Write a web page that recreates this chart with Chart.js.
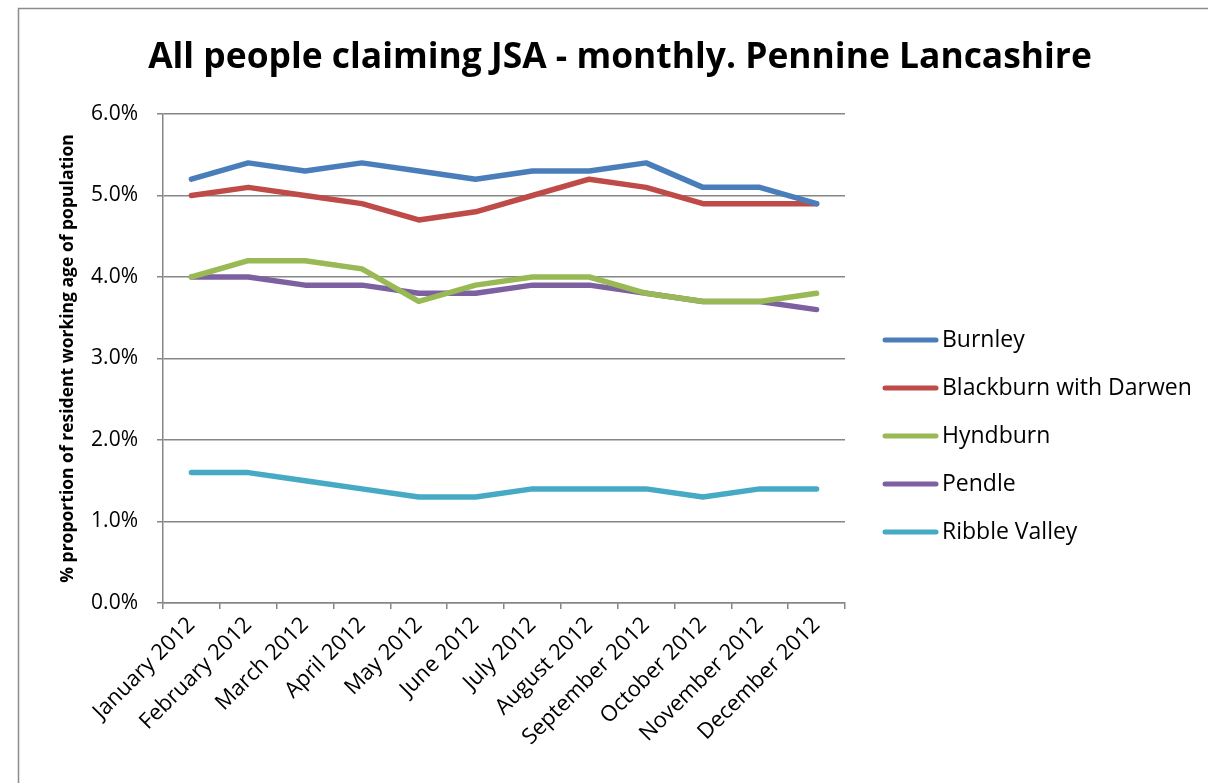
<!DOCTYPE html>
<html>
<head>
<meta charset="utf-8">
<script src="https://cdn.jsdelivr.net/npm/chart.js@4.4.0/dist/chart.umd.min.js"></script>
<style>
  html, body { margin: 0; padding: 0; background: #ffffff; }
  #wrap { width: 1208px; height: 783px; }
</style>
</head>
<body>
<div id="wrap"><canvas id="c" width="1208" height="783"></canvas></div>
<script>
const titleText = 'All people claiming JSA - monthly. Pennine Lancashire';
const yAxisTitle = '% proportion of resident working age of population';
const categories = ['January 2012', 'February 2012', 'March 2012', 'April 2012', 'May 2012', 'June 2012',
  'July 2012', 'August 2012', 'September 2012', 'October 2012', 'November 2012', 'December 2012'];
const seriesNames = ['Burnley', 'Blackburn with Darwen', 'Hyndburn', 'Pendle', 'Ribble Valley'];
const burnley   = [5.2, 5.4, 5.3, 5.4, 5.3, 5.2, 5.3, 5.3, 5.4, 5.1, 5.1, 4.9];
const blackburn = [5.0, 5.1, 5.0, 4.9, 4.7, 4.8, 5.0, 5.2, 5.1, 4.9, 4.9, 4.9];
const hyndburn  = [4.0, 4.2, 4.2, 4.1, 3.7, 3.9, 4.0, 4.0, 3.8, 3.7, 3.7, 3.8];
const pendle    = [4.0, 4.0, 3.9, 3.9, 3.8, 3.8, 3.9, 3.9, 3.8, 3.7, 3.7, 3.6];
const ribble    = [1.6, 1.6, 1.5, 1.4, 1.3, 1.3, 1.4, 1.4, 1.4, 1.3, 1.4, 1.4];
const yTicks = [0, 1, 2, 3, 4, 5, 6];
const colors = ['#4A7EBB', '#BE4B48', '#98B954', '#7D60A0', '#46AAC5'];
const seriesValues = [burnley, blackburn, hyndburn, pendle, ribble];

const FONT = "'Open Sans', 'Noto Sans', sans-serif";
const AXIS = '#868686';

const decorPlugin = {
  id: 'decor',
  beforeDraw(chart) {
    const ctx = chart.ctx;
    ctx.save();
    ctx.fillStyle = '#ffffff';
    ctx.fillRect(0, 0, chart.width, chart.height);
    ctx.strokeStyle = '#8c8c8c';
    ctx.lineWidth = 1.5;
    ctx.strokeRect(18.5, 8.5, chart.width + 20, chart.height + 20);
    ctx.restore();
  },
  afterDraw(chart) {
    const ctx = chart.ctx;
    ctx.save();
    // title
    ctx.fillStyle = '#000000';
    ctx.font = "bold 35.4px " + FONT;
    ctx.textAlign = 'center';
    ctx.textBaseline = 'middle';
    ctx.fillText(titleText, 620, 58);
    // legend
    ctx.font = "23px " + FONT;
    ctx.textAlign = 'left';
    chart.data.datasets.forEach((ds, i) => {
      const y = 340 + i * 48;
      ctx.strokeStyle = ds.borderColor;
      ctx.lineWidth = 5;
      ctx.lineCap = 'round';
      ctx.beginPath();
      ctx.moveTo(885, y);
      ctx.lineTo(936, y);
      ctx.stroke();
      ctx.fillStyle = '#000000';
      ctx.fillText(ds.label, 942, y);
    });
    ctx.restore();
  }
};

new Chart(document.getElementById('c'), {
  type: 'line',
  data: {
    labels: categories,
    datasets: seriesNames.map((n, i) => ({
      label: n,
      data: seriesValues[i],
      borderColor: colors[i],
      backgroundColor: colors[i],
      borderWidth: 5.5,
      borderCapStyle: 'round',
      borderJoinStyle: 'round',
      pointRadius: 0,
      tension: 0,
      fill: false
    }))
  },
  options: {
    responsive: false,
    devicePixelRatio: 1,
    animation: false,
    layout: { padding: { top: 114, left: 58, right: 1208 - 845, bottom: 0 } },
    plugins: {
      legend: { display: false },
      title: { display: false },
      tooltip: { enabled: false }
    },
    scales: {
      x: {
        offset: true,
        grid: { display: true, drawOnChartArea: false, drawTicks: true, tickLength: 6, color: AXIS, lineWidth: 1.5, offset: true },
        border: { color: AXIS, width: 1.5 },
        ticks: { color: '#000000', font: { family: FONT, size: 22 }, maxRotation: 45, minRotation: 45, padding: 3, autoSkip: false },
        afterFit(scale) { scale.height = 180; }
      },
      y: {
        min: 0, max: 6,
        afterBuildTicks(scale) { scale.ticks = yTicks.map(v => ({ value: v })); },
        grid: { color: AXIS, lineWidth: 1.5, drawTicks: true, tickLength: 6 },
        border: { color: AXIS, width: 1.5 },
        ticks: { color: '#000000', font: { family: FONT, size: 21 }, padding: 19,
          callback: v => Number(v).toFixed(1) + '%' },
        title: { display: true, text: yAxisTitle, color: '#000000', font: { family: FONT, size: 17.5, weight: 'bold' }, padding: { top: 0, bottom: 0 } },
        afterFit(scale) { scale.width = 163 - 58; }
      }
    }
  },
  plugins: [decorPlugin]
});
</script>
</body>
</html>
